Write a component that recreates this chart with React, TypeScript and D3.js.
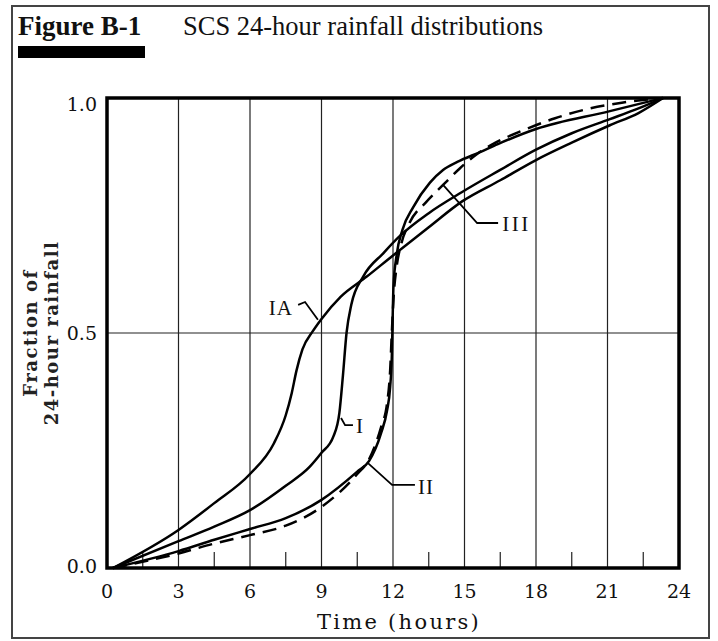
import React from 'react';
import * as d3 from 'd3';

// ---- data (time in hours, cumulative fraction of 24-hour rainfall) ----
const xTicks = [0, 3, 6, 9, 12, 15, 18, 21, 24];
const minorTicks = [1.5, 4.5, 7.5, 10.5, 13.5, 16.5, 19.5, 22.5];
const yTicks = [0, 0.5, 1.0];
const yTickLabels = ['0.0', '0.5', '1.0'];

const typeIA: [number, number][] = [
  [0.25, 0], [3, 0.081], [4.5, 0.138], [6, 0.2], [7.0, 0.265], [7.5, 0.325], [7.75, 0.372],
  [7.95, 0.42], [8.2, 0.465], [8.65, 0.505], [9.0, 0.53], [9.8, 0.577], [10.9, 0.62],
  [12.0, 0.665], [13.5, 0.725], [14.9, 0.78], [16.5, 0.825], [18.0, 0.868], [19.5, 0.905],
  [21.1, 0.942], [22.3, 0.968], [23.33, 1.0],
];
const typeI: [number, number][] = [
  [0.25, 0], [3, 0.057], [4.5, 0.088], [6, 0.123], [7.5, 0.175], [8.5, 0.215], [9.0, 0.245],
  [9.5, 0.28], [9.75, 0.33], [9.9, 0.41], [10.05, 0.5], [10.25, 0.56], [10.75, 0.62],
  [11.6, 0.67], [12.3, 0.707], [13.5, 0.755], [14.9, 0.8], [16.5, 0.847], [18.0, 0.89],
  [19.5, 0.925], [21.1, 0.955], [22.3, 0.978], [23.33, 1.0],
];
const typeII: [number, number][] = [
  [0.25, 0], [3, 0.036], [4.5, 0.06], [6, 0.083], [7.5, 0.106], [9.0, 0.145], [10.5, 0.205],
  [11.0, 0.228], [11.5, 0.287], [11.75, 0.335], [11.88, 0.385], [11.95, 0.45], [11.98, 0.52],
  [12.02, 0.6], [12.15, 0.665], [12.4, 0.72], [12.85, 0.768], [13.55, 0.82], [14.1, 0.847],
  [14.7, 0.864], [15.65, 0.885], [16.4, 0.902], [18.0, 0.934], [21.1, 0.972], [23.33, 1.0],
];
const typeIII: [number, number][] = [
  [0.25, 0], [3, 0.031], [4.5, 0.052], [6, 0.07], [7.5, 0.09], [9.0, 0.13], [10.5, 0.2],
  [11.0, 0.232], [11.5, 0.3], [11.75, 0.35], [11.88, 0.42], [11.95, 0.5], [12.03, 0.58],
  [12.15, 0.64], [12.35, 0.69], [12.7, 0.735], [13.4, 0.779], [14.1, 0.815], [14.8, 0.85],
  [15.5, 0.88], [16.3, 0.905], [17.5, 0.932], [18.8, 0.957], [20.2, 0.977], [21.6, 0.99],
  [23.33, 1.0],
];

const curveNames = ['IA', 'I', 'II', 'III'];
const curveData = [typeIA, typeI, typeII, typeIII];
const curveDashed = [false, false, false, true];

// label anchor (data coords) and leader polylines (data coords)
const labelPos: [number, number][] = [[7.8, 0.538], [10.45, 0.287], [13.05, 0.157], [16.58, 0.717]];
const labelAnchor = ['end', 'start', 'start', 'start'];
const leaders: [number, number][][] = [
  [[8.02, 0.56], [8.31, 0.566], [8.85, 0.528]],
  [[9.82, 0.319], [9.99, 0.304], [10.32, 0.304]],
  [[10.95, 0.223], [11.96, 0.177], [12.92, 0.177]],
  [[14.1, 0.815], [15.53, 0.734], [16.41, 0.734]],
];

const W = 718;
const H = 641;
const M = { left: 107, right: 679, top: 98, bottom: 568 };

export default function App() {
  const x = d3.scaleLinear().domain([0, 24]).range([M.left, M.right]);
  const y = d3.scaleLinear().domain([0, 1]).range([M.bottom, M.top]);
  const line = d3
    .line<[number, number]>()
    .x((d) => x(d[0]))
    .y((d) => y(d[1]))
    .curve(d3.curveMonotoneX);
  const leaderLine = d3
    .line<[number, number]>()
    .x((d) => x(d[0]))
    .y((d) => y(d[1]));

  const tickFont = "'DejaVu Serif', serif";
  const titleFont = "'Liberation Serif', 'Times New Roman', serif";

  return (
    <svg
      width={W}
      height={H}
      style={{ position: 'absolute', left: 0, top: 0, background: '#fff' }}
    >
      {/* outer frame */}
      <rect x={12} y={6} width={697} height={632} fill="#fff" stroke="#444" strokeWidth={2} />

      {/* title */}
      <text x={18} y={35} fontFamily={titleFont} fontWeight="bold" fontSize={27} fill="#111">
        Figure B-1
      </text>
      <text x={183} y={35} fontFamily={titleFont} fontSize={26.5} fill="#111">
        SCS 24-hour rainfall distributions
      </text>
      <rect x={18} y={46} width={127} height={12} fill="#000" />

      {/* vertical gridlines */}
      {xTicks.slice(1, -1).map((t) => (
        <line key={'g' + t} x1={x(t)} x2={x(t)} y1={M.top} y2={M.bottom} stroke="#222" strokeWidth={1.2} />
      ))}
      {/* horizontal gridline at 0.5 */}
      <line x1={M.left} x2={M.right} y1={y(0.5)} y2={y(0.5)} stroke="#222" strokeWidth={1.2} />
      {/* minor ticks at bottom */}
      {minorTicks.map((t) => (
        <line key={'m' + t} x1={x(t)} x2={x(t)} y1={M.bottom} y2={M.bottom - 16} stroke="#222" strokeWidth={1.2} />
      ))}

      {/* curves */}
      {curveData.map((d, i) => (
        <path
          key={curveNames[i]}
          d={line(d) || ''}
          fill="none"
          stroke="#000"
          strokeWidth={2.5}
          strokeDasharray={curveDashed[i] ? '14 8' : undefined}
          strokeLinejoin="round"
        />
      ))}

      {/* leaders and labels */}
      {leaders.map((l, i) => (
        <path key={'l' + i} d={leaderLine(l) || ''} fill="none" stroke="#000" strokeWidth={1.8} />
      ))}
      {labelPos.map((p, i) => (
        <text
          key={'t' + i}
          x={x(p[0])}
          y={y(p[1])}
          textAnchor={labelAnchor[i]}
          fontFamily={titleFont}
          fontSize={21}
          letterSpacing={i === 3 ? 2.5 : 1}
          fill="#111"
        >
          {curveNames[i]}
        </text>
      ))}

      {/* plot frame */}
      <rect
        x={M.left}
        y={M.top}
        width={M.right - M.left}
        height={M.bottom - M.top}
        fill="none"
        stroke="#000"
        strokeWidth={3.5}
      />

      {/* x tick labels */}
      {xTicks.map((t) => (
        <text key={'x' + t} x={x(t)} y={598} textAnchor="middle" fontFamily={tickFont} fontSize={19} fill="#111">
          {t}
        </text>
      ))}
      {/* y tick labels */}
      {yTicks.map((v, i) => (
        <text
          key={'y' + v}
          x={97}
          y={y(v) + (v === 1 ? 13 : v === 0 ? 5 : 7)}
          textAnchor="end"
          fontFamily={tickFont}
          fontSize={19}
          fill="#111"
        >
          {yTickLabels[i]}
        </text>
      ))}

      {/* axis titles */}
      <text x={x(12) + 6} y={629} textAnchor="middle" fontFamily={tickFont} fontSize={21} letterSpacing={2.3} fill="#111">
        Time (hours)
      </text>
      <g transform={`translate(37, ${y(0.5)}) rotate(-90)`}>
        <text x={0} y={0} textAnchor="middle" fontFamily={tickFont} fontWeight="bold" fontSize={18} letterSpacing={1.5} fill="#222">
          Fraction of
        </text>
        <text x={0} y={21} textAnchor="middle" fontFamily={tickFont} fontWeight="bold" fontSize={18} letterSpacing={1.5} fill="#222">
          24-hour rainfall
        </text>
      </g>
    </svg>
  );
}
